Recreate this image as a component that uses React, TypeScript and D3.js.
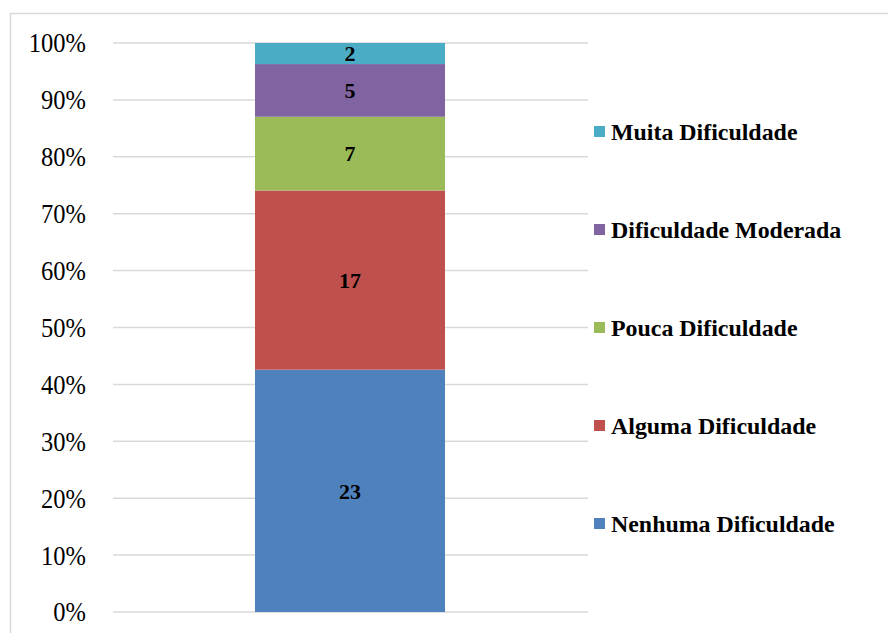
import React from "react";
import * as d3 from "d3";

const categories = ["Nenhuma Dificuldade", "Alguma Dificuldade", "Pouca Dificuldade", "Dificuldade Moderada", "Muita Dificuldade"];
const counts = [23, 17, 7, 5, 2];
const colors = ["#4F81BD", "#C0504D", "#9BBB59", "#8064A2", "#4BACC6"];
const tickValues = [0, 0.1, 0.2, 0.3, 0.4, 0.5, 0.6, 0.7, 0.8, 0.9, 1.0];

const W = 888;
const H = 633;
const plot = { left: 113, right: 588, top: 43, bottom: 612 };
const font = "'Liberation Serif', 'Times New Roman', serif";

export default function App() {
  const total = d3.sum(counts);
  const y = d3.scaleLinear().domain([0, 1]).range([plot.bottom, plot.top]);
  const shares = counts.map((c) => c / total);
  const cum = d3.cumsum(shares);
  const segs = counts.map((c, i) => ({ c, y0: cum[i] - shares[i], y1: cum[i], color: colors[i], name: categories[i] }));
  const fmt = d3.format(".0%");
  const bx = 255;
  const bw = 190;
  const legendTop = 132;
  const legendStep = 98;
  const legendOrder = [...segs].reverse();

  return (
    <svg width={W} height={H} style={{ position: "absolute", left: 0, top: 0, background: "#fff" }}>
      <rect x={10.5} y={13.5} width={W + 10} height={H + 10} fill="#fff" stroke="#d9d9d9" strokeWidth={1.5} />
      {tickValues.map((t) => (
        <g key={t}>
          <line x1={plot.left} x2={plot.right} y1={y(t)} y2={y(t)} stroke="#d9d9d9" strokeWidth={1.5} />
          <text
            transform={`translate(86,${y(t)}) scale(1,1.1)`}
            dy="0.35em"
            textAnchor="end"
            fontFamily={font}
            fontSize={24.5}
            fill="#000"
          >
            {fmt(t)}
          </text>
        </g>
      ))}
      {segs.map((s) => (
        <g key={s.name}>
          <rect x={bx} width={bw} y={y(s.y1)} height={y(s.y0) - y(s.y1)} fill={s.color} />
          <text
            x={bx + bw / 2}
            y={(y(s.y0) + y(s.y1)) / 2}
            dy="0.35em"
            textAnchor="middle"
            fontFamily={font}
            fontWeight="bold"
            fontSize={22}
            fill="#000"
          >
            {s.c}
          </text>
        </g>
      ))}
      {legendOrder.map((s, i) => {
        const ly = legendTop + i * legendStep;
        return (
          <g key={s.name}>
            <rect x={594} y={ly - 6} width={11} height={11} fill={s.color} />
            <text x={611} y={ly} dy="0.35em" fontFamily={font} fontWeight="bold" fontSize={23.9} fill="#000">
              {s.name}
            </text>
          </g>
        );
      })}
    </svg>
  );
}
